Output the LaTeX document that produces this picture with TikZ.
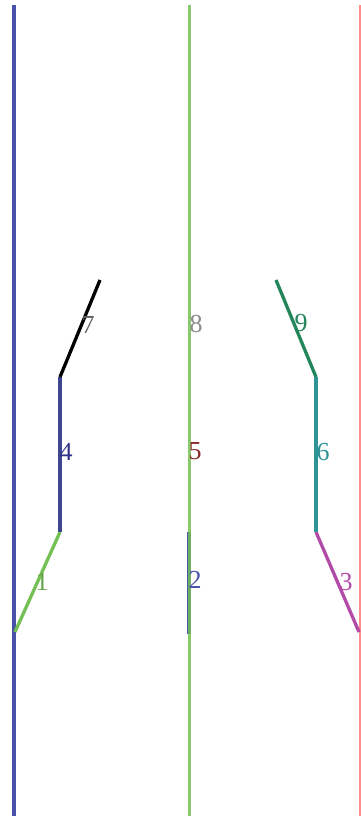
\documentclass[tikz,border=0pt]{standalone}
\usepackage{fontspec}
\setmainfont{Liberation Serif}
\usetikzlibrary{positioning}
\definecolor{myblue}{HTML}{4852A8}
\definecolor{mygreen}{HTML}{74C055}
\definecolor{mypink}{HTML}{FF8C8C}
\definecolor{myteal}{HTML}{2E9496}
\definecolor{mymagenta}{HTML}{B24AA8}
\definecolor{mydkgreen}{HTML}{23855A}
\definecolor{mynavy}{HTML}{33338A}
\definecolor{mydkred}{HTML}{8A2A2A}
\definecolor{mygray}{HTML}{8C8C8C}
\tikzset{
  seg/.style={line width=3.3pt},
  rail/.style={seg, line width=3.5pt},
  num/.style={font=\fontsize{26}{29}\selectfont, inner sep=0pt},
}
\begin{document}
\begin{tikzpicture}[x=1pt,y=-1pt]
    \useasboundingbox (0,0) rectangle (361,816);
    % rails
    \coordinate (lt) at (14,5);    \coordinate (lb) at (14,816);
    \coordinate (mt) at (189.5,5); \coordinate (mb) at (189.5,816);
    \coordinate (rt) at (359.5,5); \coordinate (rb) at (359.5,816);
    % left branch
    \coordinate (la) at (15,632); \coordinate (lm) at (60,532);
    \coordinate (ln) at (60,377); \coordinate (le) at (100,280);
    % right branch
    \coordinate (ra) at (359,632); \coordinate (rm) at (316,532);
    \coordinate (rn) at (316,377); \coordinate (re) at (276,280);
    % middle pieces
    \coordinate (ma) at (189,634); \coordinate (mm) at (189,532);
    \draw[seg, myblue] (ma) -- (mm);
    \draw[rail, myblue] (lt) -- (lb);
    \draw[rail, mygreen, opacity=0.85, line width=3.8pt] (mt) -- (mb);
    \draw[mypink, line width=2pt] (rt) -- (rb);
    \draw[seg, mygreen] (la) -- (lm);
    \draw[seg, myblue!85!black] (lm) -- (ln);
    \draw[seg, black] (ln) -- (le);
    \draw[seg, mymagenta] (ra) -- (rm);
    \draw[seg, myteal] (rm) -- (rn);
    \draw[seg, mydkgreen] (rn) -- (re);
    % labels
    \node[num, mygreen!85!black] (n1) at (42,582) {1};
    \node[num, myblue] (n2) at (195,580) {2};
    \node[num, mymagenta] (n3) at (346,582) {3};
    \node[num, mynavy] (n4) at (66,452) {4};
    \node[num, mydkred] (n5) at (195,451) {5};
    \node[num, myteal] (n6) at (323,452) {6};
    \node[num, mygray!70!black] (n7) at (88,325) {7};
    \node[num, mygray] (n8) at (196,324) {8};
    \node[num, mydkgreen] (n9) at (301,323) {9};
\end{tikzpicture}
\end{document}
